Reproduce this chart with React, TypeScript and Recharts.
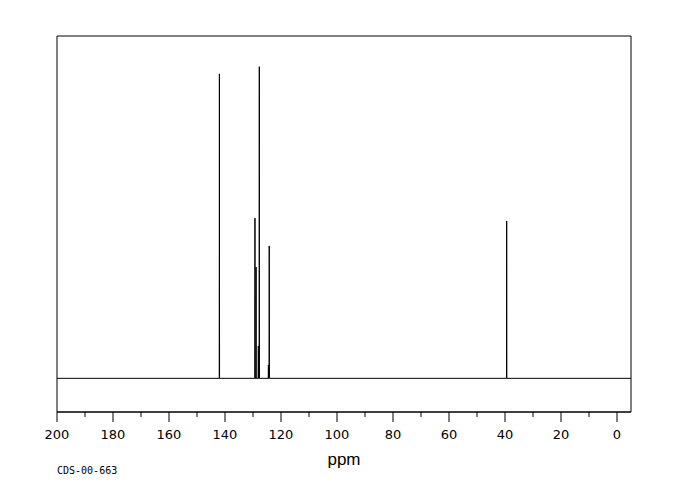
import React from 'react';
import { LineChart, Line, XAxis, YAxis, ReferenceArea } from 'recharts';

// peak positions (ppm) and relative intensities
const peakShifts = [142.0, 129.3, 128.9, 128.1, 127.75, 124.5, 124.2, 39.4];
const peakHeights = [97.7, 51.4, 35.7, 10.4, 100, 4.3, 42.5, 50.5];
const ppmTicks = [0, 10, 20, 30, 40, 50, 60, 70, 80, 90, 100, 110, 120, 130, 140, 150, 160, 170, 180, 190, 200];
const ppmRange: [number, number] = [-5, 200];
const intensityRange: [number, number] = [-10.8, 109.85];

const HALF_WIDTH = 0.06;

// turn each peak into a thin spike sitting on the baseline
const buildSpectrum = () => {
  const peaks = peakShifts
    .map((ppm, i) => ({ ppm, h: peakHeights[i] }))
    .sort((a, b) => a.ppm - b.ppm);
  const pts: { ppm: number; y: number }[] = [{ ppm: ppmRange[0], y: 0 }];
  peaks.forEach((p) => {
    pts.push({ ppm: p.ppm - HALF_WIDTH, y: 0 });
    pts.push({ ppm: p.ppm, y: p.h });
    pts.push({ ppm: p.ppm + HALF_WIDTH, y: 0 });
  });
  pts.push({ ppm: ppmRange[1], y: 0 });
  return pts;
};

const PpmTick = (props: any) => {
  const { x, y, payload } = props;
  const major = payload.value % 20 === 0;
  return (
    <g>
      <line x1={x} x2={x} y1={y} y2={y + (major ? 10 : 5)} stroke="#000" strokeWidth={1} />
      {major && (
        <text x={x} y={y + 27} textAnchor="middle" fontSize={13} fontFamily="DejaVu Sans" fill="#000">
          {payload.value}
        </text>
      )}
    </g>
  );
};

export default function App() {
  const data = buildSpectrum();

  return (
    <div style={{ position: 'absolute', left: 0, top: 0, width: 680, height: 500, background: '#fff' }}>
      <LineChart width={680} height={500} data={data} margin={{ top: 36, right: 49, bottom: 28, left: 57 }}>
        <XAxis
          dataKey="ppm"
          type="number"
          domain={ppmRange}
          reversed
          ticks={ppmTicks}
          interval={0}
          height={60}
          tickSize={0}
          tickMargin={0}
          tickLine={false}
          tick={<PpmTick />}
          axisLine={{ stroke: '#000', strokeWidth: 1 }}
        />
        <YAxis type="number" domain={intensityRange} allowDataOverflow hide />
        {/* plot frame */}
        <ReferenceArea
          x1={ppmRange[0]}
          x2={ppmRange[1]}
          y1={intensityRange[0]}
          y2={intensityRange[1]}
          fill="none"
          fillOpacity={0}
          stroke="#000"
          strokeWidth={1}
          ifOverflow="visible"
        />
        <Line
          type="linear"
          dataKey="y"
          stroke="#000"
          strokeWidth={1}
          dot={false}
          activeDot={false}
          isAnimationActive={false}
        />
      </LineChart>
      <svg width={680} height={500} style={{ position: 'absolute', left: 0, top: 0, pointerEvents: 'none' }}>
        <text x={344} y={464.5} textAnchor="middle" fontSize={17} fontFamily="Liberation Sans" fill="#000">
          ppm
        </text>
        <text x={57} y={474} fontSize={10} fontFamily="DejaVu Sans Mono" fill="#000">
          CDS-00-663
        </text>
      </svg>
    </div>
  );
}
